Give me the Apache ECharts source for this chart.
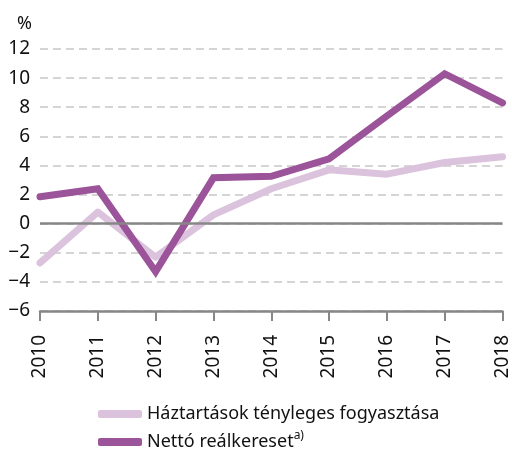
<!DOCTYPE html>
<html><head><meta charset="utf-8">
<script src="https://cdn.jsdelivr.net/npm/echarts@6/dist/echarts.min.js"></script>
<style>html,body{margin:0;padding:0;background:#fff}#c{width:512px;height:450px}</style>
</head><body><div id="c"></div>
<script>
const years = ['2010','2011','2012','2013','2014','2015','2016','2017','2018'];
const haztartasok = [-2.7, 0.8, -2.3, 0.6, 2.4, 3.7, 3.4, 4.2, 4.6];
const netto = [1.85, 2.4, -3.3, 3.15, 3.25, 4.45, 7.4, 10.3, 8.3];
const seriesNames = ['Háztartások tényleges fogyasztása', 'Nettó reálkereset'];
const yMin = -6, yMax = 12, yStep = 2;

const font = '"Noto Sans", sans-serif';
const legendText = { color: '#111', fontSize: 18, fontFamily: font,
  rich: { sup: { fontSize: 12, fontFamily: font, color: '#111', verticalAlign: 'top', padding: [0, 0, 12, 0] } } };
const chart = echarts.init(document.getElementById('c'));
chart.setOption({
  animation: false,
  grid: { left: 40, right: 5, top: 49, bottom: 139, containLabel: false },
  xAxis: {
    type: 'category', data: years, boundaryGap: false,
    axisLine: { show: true, onZero: false, lineStyle: { color: '#878787', width: 2.5 } },
    axisTick: { show: true, inside: false, length: 10, lineStyle: { color: '#878787', width: 2 } },
    axisLabel: { rotate: 90, margin: 24, color: '#111', fontSize: 19, fontFamily: font },
    splitLine: { show: false }
  },
  yAxis: {
    type: 'value', min: yMin, max: yMax, interval: yStep,
    name: '%', nameLocation: 'end', nameGap: 16,
    nameTextStyle: { color: '#111', fontSize: 18, fontFamily: font, align: 'right', padding: [0, 8, 0, 0] },
    axisLine: { show: false }, axisTick: { show: false },
    axisLabel: { color: '#111', fontSize: 19, fontFamily: font, margin: 10,
      formatter: v => String(v).replace('-', '\u2212') },
    splitLine: { show: true, lineStyle: { color: '#c8c8c8', width: 1.5, type: [8, 5] } }
  },
  legend: [
    { data: [seriesNames[0]], left: 93, top: 400, itemWidth: 44, itemHeight: 8, icon: 'roundRect', textStyle: legendText },
    { data: [seriesNames[1]], left: 93, top: 425, itemWidth: 44, itemHeight: 8, icon: 'roundRect', textStyle: legendText,
      formatter: n => n + '{sup|a)}' }
  ],
  series: [
    { name: seriesNames[0], type: 'line', data: haztartasok, symbol: 'none',
      lineStyle: { color: '#dcc3dd', width: 7, cap: 'round', join: 'round' }, itemStyle: { color: '#dcc3dd' }, z: 2,
      markLine: { silent: true, symbol: 'none', label: { show: false },
        lineStyle: { color: '#878787', width: 2.5, type: 'solid' }, data: [{ yAxis: 0 }] } },
    { name: seriesNames[1], type: 'line', data: netto, symbol: 'none',
      lineStyle: { color: '#9b5499', width: 7, cap: 'round', join: 'miter' }, itemStyle: { color: '#9b5499' }, z: 3 }
  ]
});
</script></body></html>
